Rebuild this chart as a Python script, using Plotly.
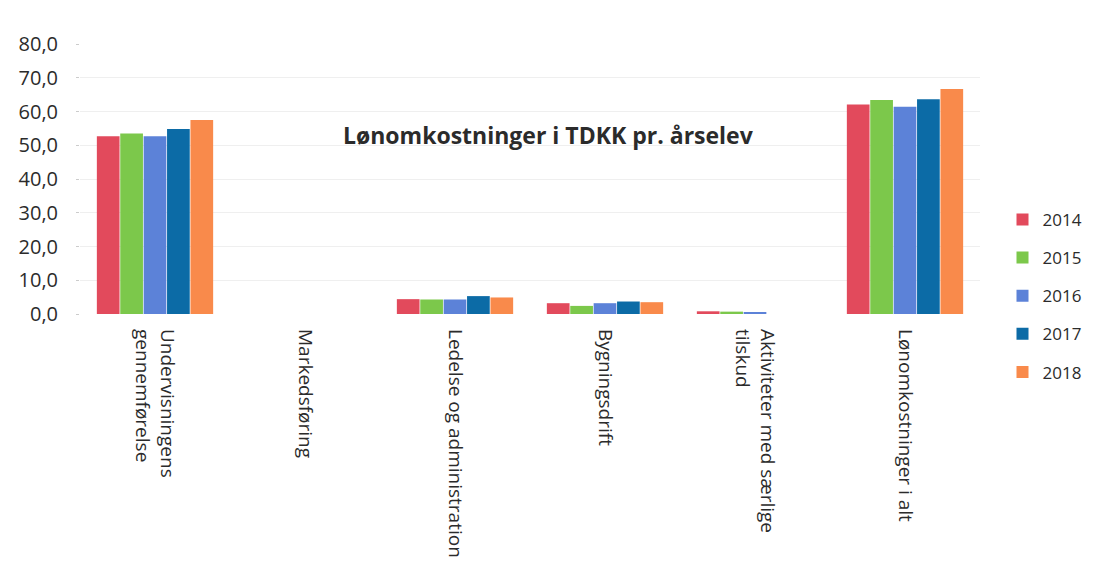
import plotly.graph_objects as go

categories = [
    "Undervisningens<br>gennemførelse",
    "Markedsføring",
    "Ledelse og administration",
    "Bygningsdrift",
    "Aktiviteter med særlige<br>tilskud",
    "Lønomkostninger i alt",
]
years = ["2014", "2015", "2016", "2017", "2018"]
values_2014 = [52.7, 0.0, 4.4, 3.2, 0.8, 62.1]
values_2015 = [53.5, 0.0, 4.3, 2.4, 0.7, 63.4]
values_2016 = [52.7, 0.0, 4.3, 3.2, 0.6, 61.4]
values_2017 = [54.8, 0.0, 5.3, 3.7, 0.0, 63.6]
values_2018 = [57.5, 0.0, 4.9, 3.5, 0.0, 66.7]
series = [values_2014, values_2015, values_2016, values_2017, values_2018]
colors = ["#E24A5C", "#7CC84B", "#5C82D8", "#0C6BA6", "#F98A4B"]
y_ticks = [0, 10, 20, 30, 40, 50, 60, 70, 80]
y_tick_labels = ["0,0", "10,0", "20,0", "30,0", "40,0", "50,0", "60,0", "70,0", "80,0"]

text_color = "#2b2b2b"

fig = go.Figure()
for year, vals, col in zip(years, series, colors):
    fig.add_trace(go.Bar(
        x=categories, y=vals, name=year, legendgroup=year,
        marker=dict(color=col, line=dict(width=0)),
    ))

fig.update_layout(
    width=1109, height=573,
    margin=dict(l=80, r=129, t=44, b=259),
    paper_bgcolor="white", plot_bgcolor="white",
    barmode="group", bargap=0.22, bargroupgap=0.03,
    font=dict(family="Open Sans, sans-serif", color=text_color),
    showlegend=True,
    legend=dict(
        x=1.025, y=0.415, xanchor="left", yanchor="top",
        font=dict(size=17, color=text_color),
        itemsizing="constant", tracegroupgap=13,
        bgcolor="rgba(0,0,0,0)",
    ),
    annotations=[dict(
        text="<b>Lønomkostninger i TDKK pr. årselev</b>",
        xref="paper", yref="paper", x=0.52, y=0.662,
        xanchor="center", yanchor="middle", showarrow=False,
        font=dict(size=23, color=text_color),
    )],
)
fig.update_yaxes(
    range=[0, 80], tickvals=y_ticks, ticktext=y_tick_labels,
    tickfont=dict(size=20, color=text_color),
    ticklabelstandoff=14,
    showgrid=True, gridcolor="#efefef", gridwidth=1,
    zeroline=False, showline=False,
    ticks="outside", ticklen=3, tickcolor="#cccccc",
)
fig.update_xaxes(
    tickangle=90, tickfont=dict(size=19, color=text_color),
    ticklabelstandoff=14,
    showline=False, ticks="", showgrid=False,
)

fig.write_html("out.html")
